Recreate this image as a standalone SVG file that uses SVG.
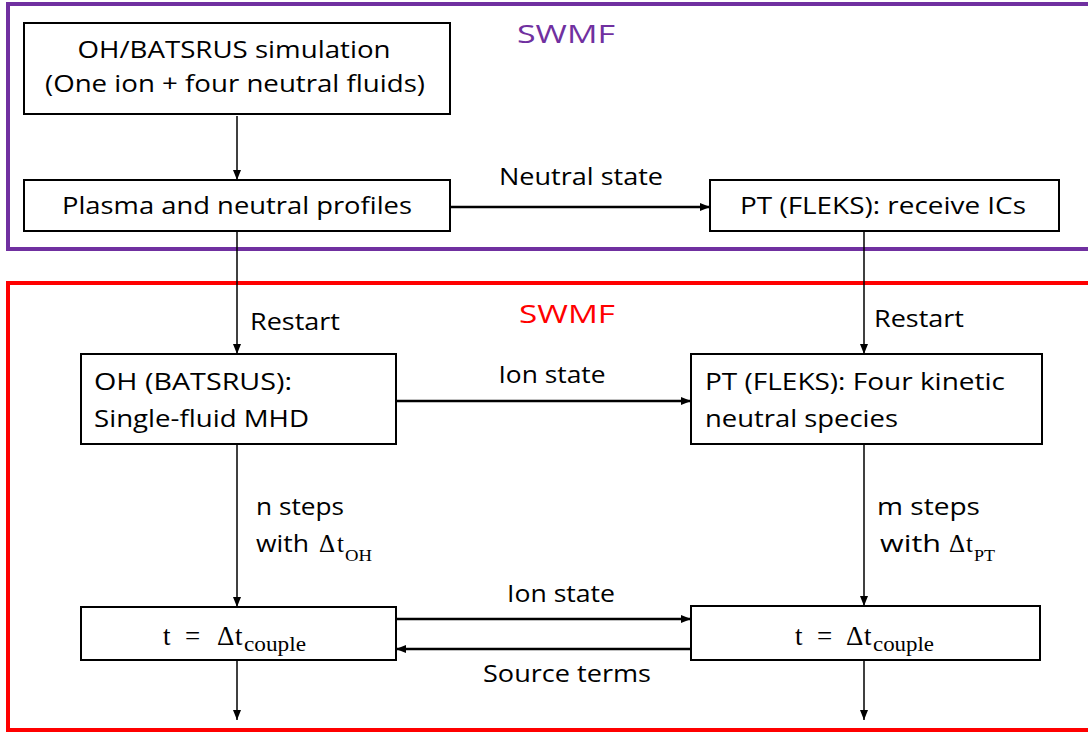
<svg xmlns="http://www.w3.org/2000/svg" width="1088" height="734" viewBox="0 0 1088 734">
  <defs>
    <marker id="arrow" viewBox="0 0 10 10" refX="10" refY="5" markerWidth="10" markerHeight="10" markerUnits="userSpaceOnUse" orient="auto">
      <path d="M0,1 L10,5 L0,9 Z" fill="#000"/>
    </marker>
    <style>
      .frame-purple { fill: none; stroke: #7030A0; stroke-width: 4; }
      .frame-red { fill: none; stroke: #FF0000; stroke-width: 4; }
      .box { fill: #fff; stroke: #000; stroke-width: 2; }
      .t { font-family: "Open Sans", "Liberation Sans", sans-serif; font-size: 23px; fill: #000; }
      .m { font-family: "Liberation Serif", "DejaVu Serif", serif; font-size: 27px; fill: #000; }
      .ms { font-family: "Liberation Serif", "DejaVu Serif", serif; font-size: 25px; fill: #000; }
      .sub { font-family: "Liberation Serif", "DejaVu Serif", serif; font-size: 20px; fill: #000; }
      .subs { font-family: "Liberation Serif", "DejaVu Serif", serif; font-size: 17px; fill: #000; }
      .title { font-family: "Open Sans", "Liberation Sans", sans-serif; font-size: 25px; }
      .v { fill: none; stroke: #000; stroke-width: 1.5; marker-end: url(#arrow); }
      .h { fill: none; stroke: #000; stroke-width: 2.5; marker-end: url(#arrow); }
    </style>
  </defs>

  <!-- framework groupings (right side runs past the page edge) -->
  <g id="frame-init">
    <rect class="frame-purple" x="8" y="4" width="1100" height="245"/>
    <text class="title" x="566" y="43" text-anchor="middle" fill="#7030A0" textLength="98" lengthAdjust="spacingAndGlyphs">SWMF</text>
  </g>
  <g id="frame-coupled">
    <rect class="frame-red" x="8" y="283" width="1100" height="447"/>
    <text class="title" x="567" y="323" text-anchor="middle" fill="#FF0000" textLength="96" lengthAdjust="spacingAndGlyphs">SWMF</text>
  </g>

  <!-- connectors -->
  <g id="connectors">
    <path class="v" d="M237,116 V180"/>
    <path class="h" d="M450,207 H710"/>
    <path class="v" d="M237,231 V354"/>
    <path class="v" d="M864,231 V354"/>
    <path class="h" d="M396,401 H691"/>
    <path class="v" d="M237,444 V607"/>
    <path class="v" d="M864,444 V606"/>
    <path class="h" d="M396,619 H691"/>
    <path class="h" d="M691,649 H396"/>
    <path class="v" d="M237,660 V720"/>
    <path class="v" d="M864,660 V720"/>

    <text class="t" x="581" y="185" text-anchor="middle" textLength="164" lengthAdjust="spacingAndGlyphs">Neutral state</text>
    <text class="t" x="250" y="330" textLength="90" lengthAdjust="spacingAndGlyphs">Restart</text>
    <text class="t" x="874" y="327" textLength="90" lengthAdjust="spacingAndGlyphs">Restart</text>
    <text class="t" x="552" y="383" text-anchor="middle" textLength="107" lengthAdjust="spacingAndGlyphs">Ion state</text>

    <text class="t" x="256" y="515" textLength="88" lengthAdjust="spacingAndGlyphs">n steps</text>
    <text class="t" x="256" y="552" textLength="53" lengthAdjust="spacingAndGlyphs">with</text>
    <text class="ms" y="552"><tspan x="319">Δ</tspan><tspan x="337">t</tspan></text>
    <text class="subs" x="345" y="561" textLength="27" lengthAdjust="spacingAndGlyphs">OH</text>

    <text class="t" x="877" y="515" textLength="103" lengthAdjust="spacingAndGlyphs">m steps</text>
    <text class="t" x="880" y="552" textLength="61" lengthAdjust="spacingAndGlyphs">with</text>
    <text class="ms" y="552"><tspan x="949">Δ</tspan><tspan x="966">t</tspan></text>
    <text class="subs" x="974" y="561" textLength="21" lengthAdjust="spacingAndGlyphs">PT</text>

    <text class="t" x="561" y="602" text-anchor="middle" textLength="108" lengthAdjust="spacingAndGlyphs">Ion state</text>
    <text class="t" x="567" y="682" text-anchor="middle" textLength="168" lengthAdjust="spacingAndGlyphs">Source terms</text>
  </g>

  <!-- nodes -->
  <g id="node-oh-sim">
    <rect class="box" x="24" y="23" width="426" height="91"/>
    <text class="t" x="234" y="58" text-anchor="middle" textLength="313" lengthAdjust="spacingAndGlyphs">OH/BATSRUS simulation</text>
    <text class="t" x="235" y="92" text-anchor="middle" textLength="380" lengthAdjust="spacingAndGlyphs">(One ion + four neutral fluids)</text>
  </g>
  <g id="node-profiles">
    <rect class="box" x="24" y="180" width="426" height="51"/>
    <text class="t" x="237" y="214" text-anchor="middle" textLength="350" lengthAdjust="spacingAndGlyphs">Plasma and neutral profiles</text>
  </g>
  <g id="node-pt-ics">
    <rect class="box" x="710" y="180" width="349" height="51"/>
    <text class="t" x="883" y="214" text-anchor="middle" textLength="286" lengthAdjust="spacingAndGlyphs">PT (FLEKS): receive ICs</text>
  </g>
  <g id="node-oh-mhd">
    <rect class="box" x="81" y="354" width="315" height="90"/>
    <text class="t" x="94" y="390" textLength="198" lengthAdjust="spacingAndGlyphs">OH (BATSRUS):</text>
    <text class="t" x="94" y="427" textLength="215" lengthAdjust="spacingAndGlyphs">Single-fluid MHD</text>
  </g>
  <g id="node-pt-kinetic">
    <rect class="box" x="691" y="354" width="351" height="90"/>
    <text class="t" x="705" y="390" textLength="300" lengthAdjust="spacingAndGlyphs">PT (FLEKS): Four kinetic</text>
    <text class="t" x="705" y="427" textLength="193" lengthAdjust="spacingAndGlyphs">neutral species</text>
  </g>
  <g id="node-oh-couple">
    <rect class="box" x="81" y="607" width="315" height="53"/>
    <text class="m" y="645"><tspan x="163">t</tspan><tspan x="185">=</tspan><tspan x="217">Δ</tspan><tspan x="235">t</tspan></text>
    <text class="sub" x="244" y="651" textLength="62" lengthAdjust="spacingAndGlyphs">couple</text>
  </g>
  <g id="node-pt-couple">
    <rect class="box" x="691" y="606" width="349" height="54"/>
    <text class="m" y="645"><tspan x="795">t</tspan><tspan x="817">=</tspan><tspan x="846">Δ</tspan><tspan x="864">t</tspan></text>
    <text class="sub" x="873" y="651" textLength="61" lengthAdjust="spacingAndGlyphs">couple</text>
  </g>
</svg>
